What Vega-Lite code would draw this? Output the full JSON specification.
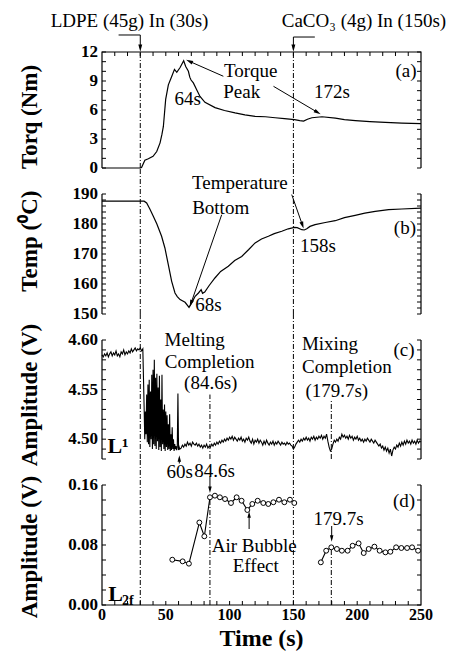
{
"$schema": "https://vega.github.io/schema/vega-lite/v6.json",
"padding": {"left": 18, "top": 12, "right": 5, "bottom": 5},
"spacing": 26,
"bounds": "flush",
"config": {
  "view": {"stroke": null},
  "axis": {"grid": false},
  "text": {"font": "Liberation Serif", "fontSize": 19, "color": "black", "align": "center", "baseline": "middle"}
},
"datasets": {
  "torque": [{"x":0,"y":0},{"x":30,"y":0},{"x":31,"y":0.05},{"x":33.6,"y":0.8},{"x":36.3,"y":0.95},{"x":40,"y":1.2},{"x":42.9,"y":1.7},{"x":45.5,"y":2.6},{"x":47,"y":3.5},{"x":48.1,"y":4.3},{"x":49.9,"y":7.1},{"x":52,"y":8.6},{"x":54.7,"y":9.5},{"x":56.8,"y":10.2},{"x":58.6,"y":9.9},{"x":61.2,"y":10.4},{"x":64,"y":11.1},{"x":65.6,"y":10.5},{"x":67.7,"y":10.0},{"x":68.8,"y":9.4},{"x":69.8,"y":9.1},{"x":71.6,"y":8.8},{"x":74.2,"y":8.1},{"x":76.8,"y":7.4},{"x":80.7,"y":6.8},{"x":88.6,"y":6.25},{"x":96,"y":5.95},{"x":104.3,"y":5.7},{"x":112,"y":5.5},{"x":120,"y":5.35},{"x":128,"y":5.3},{"x":135.7,"y":5.2},{"x":143,"y":5.1},{"x":150.9,"y":5.0},{"x":155,"y":4.9},{"x":158,"y":4.85},{"x":161,"y":5.05},{"x":164.5,"y":5.2},{"x":172.4,"y":5.3},{"x":182.9,"y":5.15},{"x":190,"y":5.0},{"x":198.6,"y":4.9},{"x":210,"y":4.8},{"x":222,"y":4.72},{"x":235,"y":4.65},{"x":250,"y":4.6}],
  "temp": [{"x":0,"y":187.6},{"x":33,"y":187.6},{"x":35,"y":187.0},{"x":37.5,"y":185},{"x":40.2,"y":182.6},{"x":43,"y":180},{"x":46.7,"y":175.9},{"x":49.3,"y":172},{"x":52,"y":166.4},{"x":54.6,"y":160.9},{"x":57.2,"y":157},{"x":59,"y":155.8},{"x":61.2,"y":154.8},{"x":65.1,"y":153.9},{"x":68.2,"y":152.2},{"x":70.9,"y":154.2},{"x":73,"y":155.9},{"x":75.6,"y":157},{"x":77.7,"y":158.1},{"x":78.8,"y":156.9},{"x":80.5,"y":157.3},{"x":84,"y":159.5},{"x":88.5,"y":162},{"x":93,"y":164.2},{"x":99,"y":165.9},{"x":104,"y":167.8},{"x":109.5,"y":169.2},{"x":115,"y":171.5},{"x":120,"y":173.7},{"x":125,"y":175},{"x":130.4,"y":175.9},{"x":135,"y":176.8},{"x":140.9,"y":177.6},{"x":146,"y":178.4},{"x":150.8,"y":178.9},{"x":153,"y":178.8},{"x":156.6,"y":178.1},{"x":158.5,"y":178.0},{"x":160.5,"y":178.4},{"x":163,"y":179.2},{"x":167,"y":179.8},{"x":175,"y":180.5},{"x":182.8,"y":181.1},{"x":190,"y":182.1},{"x":198.4,"y":182.9},{"x":206,"y":183.6},{"x":214.1,"y":184.2},{"x":224.6,"y":184.8},{"x":235,"y":185.0},{"x":250,"y":185.3}],
  "amp1": [{"x":0,"y":4.585},{"x":1,"y":4.583},{"x":2,"y":4.586},{"x":3,"y":4.584},{"x":4,"y":4.587},{"x":5,"y":4.583},{"x":6,"y":4.586},{"x":7,"y":4.588},{"x":8,"y":4.584},{"x":9,"y":4.587},{"x":10,"y":4.585},{"x":11,"y":4.589},{"x":12,"y":4.584},{"x":13,"y":4.586},{"x":14,"y":4.583},{"x":15,"y":4.588},{"x":16,"y":4.586},{"x":17,"y":4.59},{"x":18,"y":4.585},{"x":19,"y":4.588},{"x":20,"y":4.586},{"x":21,"y":4.589},{"x":22,"y":4.587},{"x":23,"y":4.591},{"x":24,"y":4.588},{"x":25,"y":4.59},{"x":26,"y":4.592},{"x":27,"y":4.589},{"x":28,"y":4.591},{"x":29,"y":4.59},{"x":30,"y":4.592},{"x":31,"y":4.589},{"x":32,"y":4.591},
  {"x":33,"y":4.533},{"x":33.5,"y":4.5},{"x":34,"y":4.528},{"x":34.5,"y":4.505},{"x":35,"y":4.545},{"x":35.5,"y":4.497},{"x":36,"y":4.555},{"x":36.5,"y":4.495},{"x":37,"y":4.56},{"x":37.5,"y":4.492},{"x":38,"y":4.548},{"x":38.5,"y":4.5},{"x":39,"y":4.565},{"x":39.5,"y":4.49},{"x":40,"y":4.57},{"x":40.5,"y":4.495},{"x":41,"y":4.58},{"x":41.5,"y":4.493},{"x":42,"y":4.562},{"x":42.5,"y":4.49},{"x":43,"y":4.566},{"x":43.5,"y":4.498},{"x":44,"y":4.552},{"x":44.5,"y":4.489},{"x":45,"y":4.564},{"x":45.5,"y":4.492},{"x":46,"y":4.54},{"x":46.5,"y":4.488},{"x":47,"y":4.565},{"x":47.5,"y":4.495},{"x":48,"y":4.53},{"x":48.5,"y":4.49},{"x":49,"y":4.535},{"x":49.5,"y":4.488},{"x":50,"y":4.528},{"x":50.5,"y":4.492},{"x":51,"y":4.524},{"x":51.5,"y":4.489},{"x":52,"y":4.515},{"x":52.5,"y":4.49},{"x":53,"y":4.525},{"x":53.5,"y":4.488},{"x":54,"y":4.505},{"x":54.5,"y":4.489},{"x":55,"y":4.512},{"x":55.5,"y":4.49},{"x":56,"y":4.5},{"x":56.5,"y":4.488},{"x":57,"y":4.495},{"x":57.5,"y":4.49},{"x":58,"y":4.493},{"x":58.5,"y":4.489},{"x":59,"y":4.492},{"x":59.5,"y":4.546},{"x":60,"y":4.489},{"x":60.5,"y":4.492},{"x":61,"y":4.49},
  {"x":62,"y":4.491},{"x":63,"y":4.494},{"x":64,"y":4.492},{"x":65,"y":4.495},{"x":66,"y":4.493},{"x":67,"y":4.497},{"x":68,"y":4.494},{"x":69,"y":4.496},{"x":70,"y":4.493},{"x":71,"y":4.497},{"x":72,"y":4.495},{"x":73,"y":4.494},{"x":74,"y":4.496},{"x":75,"y":4.493},{"x":76,"y":4.495},{"x":77,"y":4.492},{"x":78,"y":4.494},{"x":79,"y":4.491},{"x":80,"y":4.494},{"x":81,"y":4.492},{"x":82,"y":4.495},{"x":83,"y":4.491},{"x":84,"y":4.493},{"x":85,"y":4.492},{"x":86,"y":4.495},{"x":87,"y":4.493},{"x":88,"y":4.496},{"x":89,"y":4.494},{"x":90,"y":4.497},{"x":91,"y":4.495},{"x":92,"y":4.498},{"x":93,"y":4.496},{"x":94,"y":4.499},{"x":95,"y":4.497},{"x":96,"y":4.5},{"x":97,"y":4.498},{"x":98,"y":4.501},{"x":99,"y":4.499},{"x":100,"y":4.502},{"x":101,"y":4.5},{"x":102,"y":4.503},{"x":103,"y":4.499},{"x":104,"y":4.502},{"x":105,"y":4.5},{"x":106,"y":4.498},{"x":107,"y":4.501},{"x":108,"y":4.499},{"x":109,"y":4.502},{"x":110,"y":4.498},{"x":111,"y":4.5},{"x":112,"y":4.497},{"x":113,"y":4.501},{"x":114,"y":4.499},{"x":115,"y":4.502},{"x":116,"y":4.498},{"x":117,"y":4.496},{"x":118,"y":4.5},{"x":119,"y":4.495},{"x":120,"y":4.499},{"x":121,"y":4.497},{"x":122,"y":4.5},{"x":123,"y":4.496},{"x":124,"y":4.499},{"x":125,"y":4.497},{"x":126,"y":4.494},{"x":127,"y":4.498},{"x":128,"y":4.495},{"x":129,"y":4.499},{"x":130,"y":4.496},{"x":131,"y":4.494},{"x":132,"y":4.497},{"x":133,"y":4.495},{"x":134,"y":4.498},{"x":135,"y":4.494},{"x":136,"y":4.497},{"x":137,"y":4.495},{"x":138,"y":4.498},{"x":139,"y":4.496},{"x":140,"y":4.494},{"x":141,"y":4.497},{"x":142,"y":4.495},{"x":143,"y":4.496},{"x":144,"y":4.494},{"x":145,"y":4.497},{"x":146,"y":4.495},{"x":147,"y":4.496},{"x":148,"y":4.494},{"x":149,"y":4.493},{"x":150,"y":4.49},{"x":151,"y":4.492},{"x":152,"y":4.495},{"x":153,"y":4.497},{"x":154,"y":4.499},{"x":155,"y":4.497},{"x":156,"y":4.5},{"x":157,"y":4.498},{"x":158,"y":4.501},{"x":159,"y":4.499},{"x":160,"y":4.502},{"x":161,"y":4.499},{"x":162,"y":4.501},{"x":163,"y":4.498},{"x":164,"y":4.502},{"x":165,"y":4.5},{"x":166,"y":4.503},{"x":167,"y":4.499},{"x":168,"y":4.502},{"x":169,"y":4.5},{"x":170,"y":4.503},{"x":171,"y":4.501},{"x":172,"y":4.504},{"x":173,"y":4.5},{"x":174,"y":4.503},{"x":175,"y":4.501},{"x":176,"y":4.505},{"x":177,"y":4.498},{"x":178,"y":4.492},{"x":179,"y":4.488},{"x":180,"y":4.49},{"x":181,"y":4.495},{"x":182,"y":4.499},{"x":183,"y":4.497},{"x":184,"y":4.5},{"x":185,"y":4.498},{"x":186,"y":4.502},{"x":187,"y":4.5},{"x":188,"y":4.505},{"x":189,"y":4.502},{"x":190,"y":4.504},{"x":191,"y":4.501},{"x":192,"y":4.503},{"x":193,"y":4.5},{"x":194,"y":4.504},{"x":195,"y":4.501},{"x":196,"y":4.503},{"x":197,"y":4.499},{"x":198,"y":4.502},{"x":199,"y":4.5},{"x":200,"y":4.503},{"x":201,"y":4.499},{"x":202,"y":4.501},{"x":203,"y":4.498},{"x":204,"y":4.5},{"x":205,"y":4.497},{"x":206,"y":4.5},{"x":207,"y":4.498},{"x":208,"y":4.501},{"x":209,"y":4.499},{"x":210,"y":4.497},{"x":211,"y":4.5},{"x":212,"y":4.498},{"x":213,"y":4.496},{"x":214,"y":4.499},{"x":215,"y":4.497},{"x":216,"y":4.495},{"x":217,"y":4.493},{"x":218,"y":4.495},{"x":219,"y":4.491},{"x":220,"y":4.493},{"x":221,"y":4.489},{"x":222,"y":4.492},{"x":223,"y":4.488},{"x":224,"y":4.491},{"x":225,"y":4.486},{"x":226,"y":4.49},{"x":227,"y":4.483},{"x":228,"y":4.489},{"x":229,"y":4.492},{"x":230,"y":4.49},{"x":231,"y":4.494},{"x":232,"y":4.492},{"x":233,"y":4.496},{"x":234,"y":4.493},{"x":235,"y":4.497},{"x":236,"y":4.494},{"x":237,"y":4.498},{"x":238,"y":4.495},{"x":239,"y":4.499},{"x":240,"y":4.496},{"x":241,"y":4.498},{"x":242,"y":4.495},{"x":243,"y":4.499},{"x":244,"y":4.496},{"x":245,"y":4.498},{"x":246,"y":4.495},{"x":247,"y":4.499},{"x":248,"y":4.496},{"x":249,"y":4.498},{"x":250,"y":4.497}],
  "amp2": [{"s":1,"x":55.1,"y":0.0604},{"s":1,"x":63.2,"y":0.0582},{"s":1,"x":68.1,"y":0.0551},{"s":1,"x":76.3,"y":0.11},{"s":1,"x":80.2,"y":0.0916},{"s":1,"x":84.6,"y":0.1436},{"s":1,"x":88.5,"y":0.1458},{"s":1,"x":92.4,"y":0.1436},{"s":1,"x":96.4,"y":0.1413},{"s":1,"x":101.1,"y":0.136},{"s":1,"x":105.5,"y":0.1436},{"s":1,"x":109.4,"y":0.139},{"s":1,"x":113.9,"y":0.1267},{"s":1,"x":117.8,"y":0.1347},{"s":1,"x":122,"y":0.139},{"s":1,"x":126.4,"y":0.136},{"s":1,"x":130.3,"y":0.1347},{"s":1,"x":134.3,"y":0.137},{"s":1,"x":138.7,"y":0.1404},{"s":1,"x":142.9,"y":0.137},{"s":1,"x":147.3,"y":0.1404},{"s":1,"x":150.7,"y":0.136},
  {"s":2,"x":171.5,"y":0.0569},{"s":2,"x":175.7,"y":0.0724},{"s":2,"x":179.7,"y":0.0769},{"s":2,"x":184.1,"y":0.0747},{"s":2,"x":188,"y":0.0724},{"s":2,"x":192.5,"y":0.0724},{"s":2,"x":196.4,"y":0.079},{"s":2,"x":201.1,"y":0.0822},{"s":2,"x":205.1,"y":0.0693},{"s":2,"x":209,"y":0.0747},{"s":2,"x":213.5,"y":0.0778},{"s":2,"x":217.6,"y":0.0724},{"s":2,"x":222.1,"y":0.0702},{"s":2,"x":226,"y":0.071},{"s":2,"x":230.5,"y":0.0769},{"s":2,"x":234.6,"y":0.076},{"s":2,"x":239.1,"y":0.076},{"s":2,"x":243,"y":0.0769},{"s":2,"x":247.7,"y":0.0724}],
  "tA": [{"v":0},{"v":1},{"v":2},{"v":3},{"v":4},{"v":5},{"v":6},{"v":7},{"v":8},{"v":9},{"v":10},{"v":11},{"v":12}],
  "tB": [{"v":150},{"v":152},{"v":154},{"v":156},{"v":158},{"v":160},{"v":162},{"v":164},{"v":166},{"v":168},{"v":170},{"v":172},{"v":174},{"v":176},{"v":178},{"v":180},{"v":182},{"v":184},{"v":186},{"v":188},{"v":190}],
  "tC": [{"v":4.48},{"v":4.49},{"v":4.5},{"v":4.51},{"v":4.52},{"v":4.53},{"v":4.54},{"v":4.55},{"v":4.56},{"v":4.57},{"v":4.58},{"v":4.59},{"v":4.6}],
  "tD": [{"v":0},{"v":0.02},{"v":0.04},{"v":0.06},{"v":0.08},{"v":0.1},{"v":0.12},{"v":0.14},{"v":0.16}],
  "tX": [{"v":10},{"v":20},{"v":30},{"v":40},{"v":50},{"v":60},{"v":70},{"v":80},{"v":90},{"v":100},{"v":110},{"v":120},{"v":130},{"v":140},{"v":150},{"v":160},{"v":170},{"v":180},{"v":190},{"v":200},{"v":210},{"v":220},{"v":230},{"v":240}]
},
"vconcat": [
{
  "width": 319, "height": 116,
  "layer": [
    {"data": {"name": "torque"}, "mark": {"type": "line", "color": "black", "strokeWidth": 1.2},
     "encoding": {
       "x": {"field": "x", "type": "quantitative", "scale": {"domain": [0, 250], "nice": false}, "axis": null},
       "y": {"field": "y", "type": "quantitative", "scale": {"domain": [0, 12], "nice": false, "zero": false}, "axis": null}}},
    {"data": {"values": [{"x":0,"y":0,"o":1},{"x":0,"y":12,"o":2},{"x":250,"y":12,"o":3},{"x":250,"y":0,"o":4}]}, "mark": {"type": "line", "color": "black", "strokeWidth": 1.2},
     "encoding": {"x": {"field": "x", "type": "quantitative", "axis": null}, "y": {"field": "y", "type": "quantitative", "axis": null}, "order": {"field": "o", "type": "quantitative"}}},
    {"data": {"name": "tA"}, "mark": {"type": "tick", "orient": "horizontal", "size": 4, "thickness": 1, "xOffset": 2, "color": "black", "opacity": 1},
     "encoding": {"x": {"datum": 0, "type": "quantitative", "axis": null}, "y": {"field": "v", "type": "quantitative", "axis": null}}},
    {"data": {"name": "tA"}, "mark": {"type": "tick", "orient": "horizontal", "size": 4, "thickness": 1, "xOffset": -2, "color": "black", "opacity": 1},
     "encoding": {"x": {"datum": 250, "type": "quantitative", "axis": null}, "y": {"field": "v", "type": "quantitative", "axis": null}}},
    {"data": {"name": "tX"}, "mark": {"type": "tick", "orient": "vertical", "size": 4, "thickness": 1, "yOffset": 2, "color": "black", "opacity": 1},
     "encoding": {"x": {"field": "v", "type": "quantitative", "axis": null}, "y": {"datum": 12, "type": "quantitative", "axis": null}}},
    {"data": {"values": [{"x":30,"x2":30,"y":0,"y2":12},{"x":150,"x2":150,"y":0,"y2":12}]},
     "mark": {"type": "rule", "color": "black", "strokeWidth": 1, "strokeDash": [5, 2, 1, 2]},
     "encoding": {"x": {"field": "x", "type": "quantitative", "axis": null}, "y": {"field": "y", "type": "quantitative", "axis": null}, "x2": {"field": "x2"}, "y2": {"field": "y2"}}},
    {"data": {"values": [{"x":0,"y":0,"t":"0"},{"x":0,"y":3,"t":"3"},{"x":0,"y":6,"t":"6"},{"x":0,"y":9,"t":"9"},{"x":0,"y":12,"t":"12"}]}, "mark": {"type": "text", "align": "right", "dx": -4, "fontWeight": "bold", "fontSize": 17},
     "encoding": {"x": {"field": "x", "type": "quantitative", "axis": null}, "y": {"field": "y", "type": "quantitative", "axis": null}, "text": {"field": "t"}}},
    {"data": {"values": [{"x":-56.5,"y":5.28,"t":"Torq (Nm)"}]}, "mark": {"type": "text", "angle": 270, "fontWeight": "bold", "fontSize": 23},
     "encoding": {"x": {"field": "x", "type": "quantitative", "axis": null}, "y": {"field": "y", "type": "quantitative", "axis": null}, "text": {"field": "t"}}},
    {"data": {"values": [{"x":13,"y":13.76,"x2":30,"y2":13.76},{"x":30,"y":13.76,"x2":30,"y2":12.4},{"x":150,"y":13.55,"x2":166.8,"y2":13.55},{"x":150,"y":13.55,"x2":150,"y2":12.4},{"x":95.1,"y":9.49,"x2":68.4,"y2":11.04},{"x":134.4,"y":8.45,"x2":169,"y2":5.75}]},
     "mark": {"type": "rule", "color": "black", "strokeWidth": 1},
     "encoding": {"x": {"field": "x", "type": "quantitative", "axis": null}, "y": {"field": "y", "type": "quantitative", "axis": null}, "x2": {"field": "x2"}, "y2": {"field": "y2"}}},
    {"data": {"values": [{"x":30,"y":12.4},{"x":150,"y":12.4}]}, "mark": {"type": "point", "shape": "M0,-1L0.55,1L-0.55,1Z", "filled": true, "color": "black", "opacity": 1, "size": 50, "angle": 180},
     "encoding": {"x": {"field": "x", "type": "quantitative", "axis": null}, "y": {"field": "y", "type": "quantitative", "axis": null}}},
    {"data": {"values": [{"x":68.4,"y":11.04}]}, "mark": {"type": "point", "shape": "M0,-1L0.55,1L-0.55,1Z", "filled": true, "color": "black", "opacity": 1, "size": 50, "angle": 294},
     "encoding": {"x": {"field": "x", "type": "quantitative", "axis": null}, "y": {"field": "y", "type": "quantitative", "axis": null}}},
    {"data": {"values": [{"x":169,"y":5.75}]}, "mark": {"type": "point", "shape": "M0,-1L0.55,1L-0.55,1Z", "filled": true, "color": "black", "opacity": 1, "size": 50, "angle": 121},
     "encoding": {"x": {"field": "x", "type": "quantitative", "axis": null}, "y": {"field": "y", "type": "quantitative", "axis": null}}},
    {"data": {"values": [{"x":21.6,"y":15.2,"t":"LDPE (45g) In (30s)"},{"x":205.3,"y":15.2,"t":"CaCO₃ (4g) In (150s)"},{"x":116.6,"y":10.03,"t":"Torque"},{"x":109.5,"y":7.86,"t":"Peak"},{"x":67.1,"y":7.14,"t":"64s"},{"x":180.2,"y":7.86,"t":"172s"},{"x":238.2,"y":10.03,"t":"(a)"}]},
     "mark": {"type": "text"},
     "encoding": {"x": {"field": "x", "type": "quantitative", "axis": null}, "y": {"field": "y", "type": "quantitative", "axis": null}, "text": {"field": "t"}}}
  ]
},
{
  "width": 319, "height": 120,
  "layer": [
    {"data": {"name": "temp"}, "mark": {"type": "line", "color": "black", "strokeWidth": 1.2},
     "encoding": {
       "x": {"field": "x", "type": "quantitative", "scale": {"domain": [0, 250], "nice": false}, "axis": null},
       "y": {"field": "y", "type": "quantitative", "scale": {"domain": [150, 190], "nice": false, "zero": false}, "axis": null}}},
    {"data": {"values": [{"x":0,"y":150,"g":"l"},{"x":0,"y":190,"g":"l"},{"x":250,"y":150,"g":"r"},{"x":250,"y":190,"g":"r"}]}, "mark": {"type": "line", "color": "black", "strokeWidth": 1.2},
     "encoding": {"x": {"field": "x", "type": "quantitative", "axis": null}, "y": {"field": "y", "type": "quantitative", "axis": null}, "detail": {"field": "g", "type": "nominal"}}},
    {"data": {"name": "tB"}, "mark": {"type": "tick", "orient": "horizontal", "size": 4, "thickness": 1, "xOffset": 2, "color": "black", "opacity": 1},
     "encoding": {"x": {"datum": 0, "type": "quantitative", "axis": null}, "y": {"field": "v", "type": "quantitative", "axis": null}}},
    {"data": {"name": "tB"}, "mark": {"type": "tick", "orient": "horizontal", "size": 4, "thickness": 1, "xOffset": -2, "color": "black", "opacity": 1},
     "encoding": {"x": {"datum": 250, "type": "quantitative", "axis": null}, "y": {"field": "v", "type": "quantitative", "axis": null}}},
    {"data": {"values": [{"x":30,"x2":30,"y":150,"y2":198.67},{"x":150,"x2":150,"y":150,"y2":198.67}]},
     "mark": {"type": "rule", "color": "black", "strokeWidth": 1, "strokeDash": [5, 2, 1, 2]},
     "encoding": {"x": {"field": "x", "type": "quantitative", "axis": null}, "y": {"field": "y", "type": "quantitative", "axis": null}, "x2": {"field": "x2"}, "y2": {"field": "y2"}}},
    {"data": {"values": [{"x":0,"y":150,"t":"150"},{"x":0,"y":160,"t":"160"},{"x":0,"y":170,"t":"170"},{"x":0,"y":180,"t":"180"},{"x":0,"y":190,"t":"190"}]}, "mark": {"type": "text", "align": "right", "dx": -4, "fontWeight": "bold", "fontSize": 17},
     "encoding": {"x": {"field": "x", "type": "quantitative", "axis": null}, "y": {"field": "y", "type": "quantitative", "axis": null}, "text": {"field": "t"}}},
    {"data": {"values": [{"x":-56.5,"y":174.3,"t":"Temp (⁰C)"}]}, "mark": {"type": "text", "angle": 270, "fontWeight": "bold", "fontSize": 23},
     "encoding": {"x": {"field": "x", "type": "quantitative", "axis": null}, "y": {"field": "y", "type": "quantitative", "axis": null}, "text": {"field": "t"}}},
    {"data": {"values": [{"x":93.8,"y":183.1,"x2":69.7,"y2":153.5},{"x":148.7,"y":189.8,"x2":157.1,"y2":179.6}]},
     "mark": {"type": "rule", "color": "black", "strokeWidth": 1},
     "encoding": {"x": {"field": "x", "type": "quantitative", "axis": null}, "y": {"field": "y", "type": "quantitative", "axis": null}, "x2": {"field": "x2"}, "y2": {"field": "y2"}}},
    {"data": {"values": [{"x":69.7,"y":153.5}]}, "mark": {"type": "point", "shape": "M0,-1L0.55,1L-0.55,1Z", "filled": true, "color": "black", "opacity": 1, "size": 50, "angle": 199},
     "encoding": {"x": {"field": "x", "type": "quantitative", "axis": null}, "y": {"field": "y", "type": "quantitative", "axis": null}}},
    {"data": {"values": [{"x":157.1,"y":179.6}]}, "mark": {"type": "point", "shape": "M0,-1L0.55,1L-0.55,1Z", "filled": true, "color": "black", "opacity": 1, "size": 50, "angle": 161},
     "encoding": {"x": {"field": "x", "type": "quantitative", "axis": null}, "y": {"field": "y", "type": "quantitative", "axis": null}}},
    {"data": {"values": [{"x":108,"y":193.7,"t":"Temperature"},{"x":93,"y":185.3,"t":"Bottom"},{"x":83.4,"y":153.1,"t":"68s"},{"x":169.2,"y":172.8,"t":"158s"},{"x":237.4,"y":178.7,"t":"(b)"}]},
     "mark": {"type": "text"},
     "encoding": {"x": {"field": "x", "type": "quantitative", "axis": null}, "y": {"field": "y", "type": "quantitative", "axis": null}, "text": {"field": "t"}}}
  ]
},
{
  "width": 319, "height": 119,
  "layer": [
    {"data": {"name": "amp1"}, "mark": {"type": "line", "color": "black", "strokeWidth": 1.1},
     "encoding": {
       "x": {"field": "x", "type": "quantitative", "scale": {"domain": [0, 250], "nice": false}, "axis": null},
       "y": {"field": "y", "type": "quantitative", "scale": {"domain": [4.48, 4.6], "nice": false, "zero": false}, "axis": null}}},
    {"data": {"values": [{"x":0,"y":4.48,"g":"l"},{"x":0,"y":4.6,"g":"l"},{"x":250,"y":4.48,"g":"r"},{"x":250,"y":4.6,"g":"r"}]}, "mark": {"type": "line", "color": "black", "strokeWidth": 1.2},
     "encoding": {"x": {"field": "x", "type": "quantitative", "axis": null}, "y": {"field": "y", "type": "quantitative", "axis": null}, "detail": {"field": "g", "type": "nominal"}}},
    {"data": {"name": "tC"}, "mark": {"type": "tick", "orient": "horizontal", "size": 4, "thickness": 1, "xOffset": 2, "color": "black", "opacity": 1},
     "encoding": {"x": {"datum": 0, "type": "quantitative", "axis": null}, "y": {"field": "v", "type": "quantitative", "axis": null}}},
    {"data": {"name": "tC"}, "mark": {"type": "tick", "orient": "horizontal", "size": 4, "thickness": 1, "xOffset": -2, "color": "black", "opacity": 1},
     "encoding": {"x": {"datum": 250, "type": "quantitative", "axis": null}, "y": {"field": "v", "type": "quantitative", "axis": null}}},
    {"data": {"values": [{"x":30,"x2":30,"y":4.48,"y2":4.6262},{"x":150,"x2":150,"y":4.48,"y2":4.6262},{"x":84.6,"x2":84.6,"y":4.48,"y2":4.545},{"x":179.7,"x2":179.7,"y":4.48,"y2":4.54}]},
     "mark": {"type": "rule", "color": "black", "strokeWidth": 1, "strokeDash": [5, 2, 1, 2]},
     "encoding": {"x": {"field": "x", "type": "quantitative", "axis": null}, "y": {"field": "y", "type": "quantitative", "axis": null}, "x2": {"field": "x2"}, "y2": {"field": "y2"}}},
    {"data": {"values": [{"x":0,"y":4.5,"t":"4.50"},{"x":0,"y":4.55,"t":"4.55"},{"x":0,"y":4.6,"t":"4.60"}]}, "mark": {"type": "text", "align": "right", "dx": -4, "fontWeight": "bold", "fontSize": 17},
     "encoding": {"x": {"field": "x", "type": "quantitative", "axis": null}, "y": {"field": "y", "type": "quantitative", "axis": null}, "text": {"field": "t"}}},
    {"data": {"values": [{"x":-56.5,"y":4.5445,"t":"Amplitude (V)"}]}, "mark": {"type": "text", "angle": 270, "fontWeight": "bold", "fontSize": 23},
     "encoding": {"x": {"field": "x", "type": "quantitative", "axis": null}, "y": {"field": "y", "type": "quantitative", "axis": null}, "text": {"field": "t"}}},
    {"data": {"values": [{"x":60.6,"y":4.4755,"x2":60.6,"y2":4.4805}]},
     "mark": {"type": "rule", "color": "black", "strokeWidth": 1},
     "encoding": {"x": {"field": "x", "type": "quantitative", "axis": null}, "y": {"field": "y", "type": "quantitative", "axis": null}, "x2": {"field": "x2"}, "y2": {"field": "y2"}}},
    {"data": {"values": [{"x":60.6,"y":4.4805}]}, "mark": {"type": "point", "shape": "M0,-1L0.55,1L-0.55,1Z", "filled": true, "color": "black", "opacity": 1, "size": 40, "angle": 0},
     "encoding": {"x": {"field": "x", "type": "quantitative", "axis": null}, "y": {"field": "y", "type": "quantitative", "axis": null}}},
    {"data": {"values": [{"x":72.6,"y":4.6,"t":"Melting"},{"x":84.4,"y":4.5776,"t":"Completion"},{"x":85.2,"y":4.557,"t":"(84.6s)"},{"x":178.6,"y":4.596,"t":"Mixing"},{"x":191.9,"y":4.5724,"t":"Completion"},{"x":184,"y":4.549,"t":"(179.7s)"},{"x":236.7,"y":4.5898,"t":"(c)"},{"x":60.8,"y":4.4673,"t":"60s"},{"x":88.3,"y":4.4684,"t":"84.6s"}]},
     "mark": {"type": "text"},
     "encoding": {"x": {"field": "x", "type": "quantitative", "axis": null}, "y": {"field": "y", "type": "quantitative", "axis": null}, "text": {"field": "t"}}},
    {"data": {"values": [{"x":12.6,"y":4.4929,"t":"L¹"}]},
     "mark": {"type": "text", "fontWeight": "bold", "fontSize": 22},
     "encoding": {"x": {"field": "x", "type": "quantitative", "axis": null}, "y": {"field": "y", "type": "quantitative", "axis": null}, "text": {"field": "t"}}}
  ]
},
{
  "width": 319, "height": 120,
  "layer": [
    {"data": {"name": "amp2"}, "mark": {"type": "line", "color": "black", "strokeWidth": 1.1},
     "encoding": {
       "x": {"field": "x", "type": "quantitative", "scale": {"domain": [0, 250], "nice": false}, "axis": null},
       "y": {"field": "y", "type": "quantitative", "scale": {"domain": [0, 0.16], "nice": false, "zero": false}, "axis": null},
       "detail": {"field": "s", "type": "nominal"}}},
    {"data": {"values": [{"x":0,"y":0.16,"o":1},{"x":0,"y":0,"o":2},{"x":250,"y":0,"o":3},{"x":250,"y":0.16,"o":4}]}, "mark": {"type": "line", "color": "black", "strokeWidth": 1.2},
     "encoding": {"x": {"field": "x", "type": "quantitative", "axis": null}, "y": {"field": "y", "type": "quantitative", "axis": null}, "order": {"field": "o", "type": "quantitative"}}},
    {"data": {"name": "tD"}, "mark": {"type": "tick", "orient": "horizontal", "size": 4, "thickness": 1, "xOffset": 2, "color": "black", "opacity": 1},
     "encoding": {"x": {"datum": 0, "type": "quantitative", "axis": null}, "y": {"field": "v", "type": "quantitative", "axis": null}}},
    {"data": {"name": "tD"}, "mark": {"type": "tick", "orient": "horizontal", "size": 4, "thickness": 1, "xOffset": -2, "color": "black", "opacity": 1},
     "encoding": {"x": {"datum": 250, "type": "quantitative", "axis": null}, "y": {"field": "v", "type": "quantitative", "axis": null}}},
    {"data": {"name": "tX"}, "mark": {"type": "tick", "orient": "vertical", "size": 4, "thickness": 1, "yOffset": -2, "color": "black", "opacity": 1},
     "encoding": {"x": {"field": "v", "type": "quantitative", "axis": null}, "y": {"datum": 0, "type": "quantitative", "axis": null}}},
    {"data": {"values": [{"x":30,"x2":30,"y":0,"y2":0.1947},{"x":150,"x2":150,"y":0,"y2":0.1947},{"x":84.6,"x2":84.6,"y":0,"y2":0.1436},{"x":179.7,"x2":179.7,"y":0,"y2":0.0769}]},
     "mark": {"type": "rule", "color": "black", "strokeWidth": 1, "strokeDash": [5, 2, 1, 2]},
     "encoding": {"x": {"field": "x", "type": "quantitative", "axis": null}, "y": {"field": "y", "type": "quantitative", "axis": null}, "x2": {"field": "x2"}, "y2": {"field": "y2"}}},
    {"data": {"values": [{"x":0,"y":0,"t":"0.00"},{"x":0,"y":0.08,"t":"0.08"},{"x":0,"y":0.16,"t":"0.16"}]}, "mark": {"type": "text", "align": "right", "dx": -4, "fontWeight": "bold", "fontSize": 17},
     "encoding": {"x": {"field": "x", "type": "quantitative", "axis": null}, "y": {"field": "y", "type": "quantitative", "axis": null}, "text": {"field": "t"}}},
    {"data": {"values": [{"x":0,"y":0,"t":"0"},{"x":50,"y":0,"t":"50"},{"x":100,"y":0,"t":"100"},{"x":150,"y":0,"t":"150"},{"x":200,"y":0,"t":"200"},{"x":250,"y":0,"t":"250"}]}, "mark": {"type": "text", "baseline": "top", "dy": 2, "fontWeight": "bold", "fontSize": 16},
     "encoding": {"x": {"field": "x", "type": "quantitative", "axis": null}, "y": {"field": "y", "type": "quantitative", "axis": null}, "text": {"field": "t"}}},
    {"data": {"values": [{"x":-56.5,"y":0.0773,"t":"Amplitude (V)"}]}, "mark": {"type": "text", "angle": 270, "fontWeight": "bold", "fontSize": 23},
     "encoding": {"x": {"field": "x", "type": "quantitative", "axis": null}, "y": {"field": "y", "type": "quantitative", "axis": null}, "text": {"field": "t"}}},
    {"data": {"values": [{"x":125,"y":-0.0547,"t":"Time (s)"}]}, "mark": {"type": "text", "baseline": "alphabetic", "fontWeight": "bold", "fontSize": 24},
     "encoding": {"x": {"field": "x", "type": "quantitative", "axis": null}, "y": {"field": "y", "type": "quantitative", "axis": null}, "text": {"field": "t"}}},
    {"data": {"name": "amp2"}, "mark": {"type": "point", "filled": true, "fill": "white", "stroke": "black", "strokeWidth": 1, "size": 24, "opacity": 1},
     "encoding": {"x": {"field": "x", "type": "quantitative", "axis": null}, "y": {"field": "y", "type": "quantitative", "axis": null}}},
    {"data": {"values": [{"x":84.6,"y":0.172,"x2":84.6,"y2":0.1537},{"x":180,"y":0.1053,"x2":180,"y2":0.0887},{"x":115.3,"y":0.1013,"x2":115.3,"y2":0.1206}]},
     "mark": {"type": "rule", "color": "black", "strokeWidth": 1},
     "encoding": {"x": {"field": "x", "type": "quantitative", "axis": null}, "y": {"field": "y", "type": "quantitative", "axis": null}, "x2": {"field": "x2"}, "y2": {"field": "y2"}}},
    {"data": {"values": [{"x":84.6,"y":0.1537},{"x":180,"y":0.0887}]}, "mark": {"type": "point", "shape": "M0,-1L0.55,1L-0.55,1Z", "filled": true, "color": "black", "opacity": 1, "size": 40, "angle": 180},
     "encoding": {"x": {"field": "x", "type": "quantitative", "axis": null}, "y": {"field": "y", "type": "quantitative", "axis": null}}},
    {"data": {"values": [{"x":115.3,"y":0.1206}]}, "mark": {"type": "point", "shape": "M0,-1L0.55,1L-0.55,1Z", "filled": true, "color": "black", "opacity": 1, "size": 40, "angle": 0},
     "encoding": {"x": {"field": "x", "type": "quantitative", "axis": null}, "y": {"field": "y", "type": "quantitative", "axis": null}}},
    {"data": {"values": [{"x":185.4,"y":0.1147,"t":"179.7s"},{"x":119.3,"y":0.0787,"t":"Air Bubble"},{"x":120.5,"y":0.052,"t":"Effect"},{"x":236.7,"y":0.1387,"t":"(d)"}]},
     "mark": {"type": "text"},
     "encoding": {"x": {"field": "x", "type": "quantitative", "axis": null}, "y": {"field": "y", "type": "quantitative", "axis": null}, "text": {"field": "t"}}},
    {"data": {"values": [{"x":10.6,"y":0.0147,"t":"L"}]},
     "mark": {"type": "text", "fontWeight": "bold", "fontSize": 22},
     "encoding": {"x": {"field": "x", "type": "quantitative", "axis": null}, "y": {"field": "y", "type": "quantitative", "axis": null}, "text": {"field": "t"}}},
    {"data": {"values": [{"x":20.3,"y":0.0053,"t":"2f"}]},
     "mark": {"type": "text", "fontWeight": "bold", "fontSize": 14},
     "encoding": {"x": {"field": "x", "type": "quantitative", "axis": null}, "y": {"field": "y", "type": "quantitative", "axis": null}, "text": {"field": "t"}}}
  ]
}
]
}
